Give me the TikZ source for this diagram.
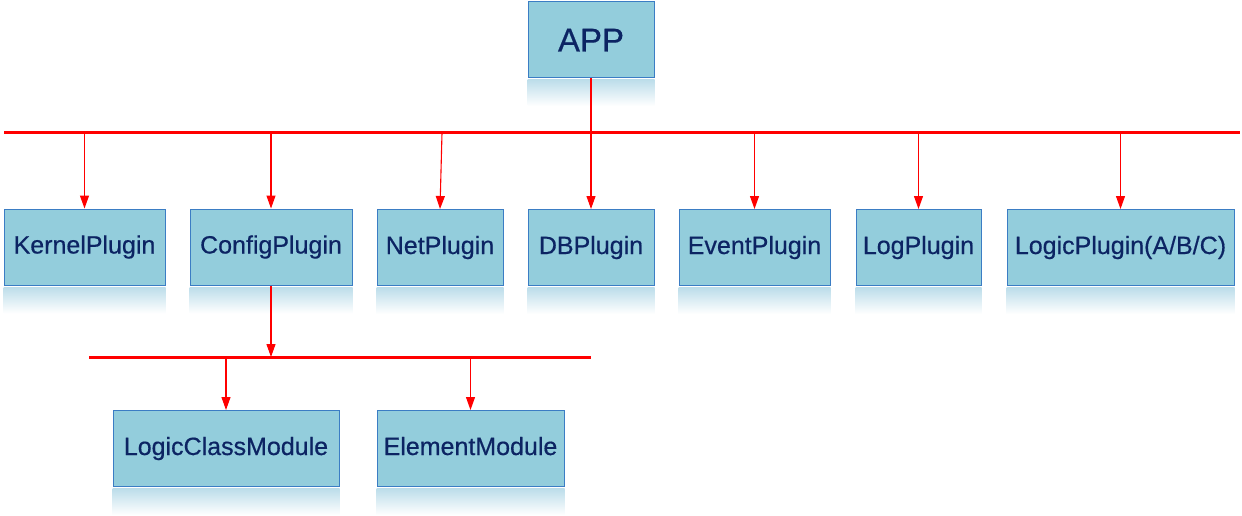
\documentclass[tikz,border=0pt]{standalone}
\usepackage{fontspec}
\setmainfont{Liberation Sans}
\newfontfamily\boxfont[FakeBold=0.5]{Liberation Sans}
\usetikzlibrary{arrows.meta,calc}
\definecolor{boxfill}{HTML}{93CDDC}
\definecolor{boxline}{HTML}{3B7DC4}
\definecolor{boxtext}{HTML}{0C2463}
\definecolor{reflc}{HTML}{BCDDEA}
\definecolor{linered}{HTML}{FF0000}
\tikzset{
  box/.style={draw=boxline, line width=1pt, fill=boxfill, text=boxtext,
    minimum height=76pt, inner sep=0pt, text height=18pt, text depth=5pt,
    font=\boxfont\fontsize{25}{28}\selectfont},
  bigbox/.style={box, text height=24pt, text depth=0pt, font=\boxfont\fontsize{33}{36}\selectfont},
  bus/.style={draw=linered, line width=3pt},
  arr/.style={draw=linered, line width=1.1pt, -{Triangle[width=9pt,length=13pt]}},
}
\begin{document}
\begin{tikzpicture}[x=1pt,y=-1pt]
\useasboundingbox (0,0) rectangle (1242,516);
% nodes
\node[bigbox, minimum width=126pt] (app) at (591,39.5) {APP};
\node[box, minimum width=161pt] (kernel) at (84.5,247) {KernelPlugin};
\node[box, minimum width=162pt] (config) at (271,247) {ConfigPlugin};
\node[box, minimum width=126pt] (net) at (440,247.5) {NetPlugin};
\node[box, minimum width=126pt] (db) at (591,247.5) {DBPlugin};
\node[box, minimum width=151pt] (event) at (754.5,247.5) {EventPlugin};
\node[box, minimum width=125pt] (log) at (918.5,247.5) {LogPlugin};
\node[box, minimum width=227pt] (logic) at (1120.5,247.5) {LogicPlugin(A/B/C)};
\node[box, minimum width=226pt] (lcm) at (226,448.5) {LogicClassModule};
\node[box, minimum width=187pt] (elem) at (470.5,448.5) {ElementModule};
% reflections
\foreach \n in {app,kernel,config,net,db,event,log,logic,lcm,elem}{
  \shade[top color=reflc, bottom color=white]
    ($(\n.south west)+(0,1.5)$) rectangle ($(\n.south east)+(0,28)$);
}
% buses
\coordinate (busL) at (4,133);
\coordinate (busR) at (1240,133);
\coordinate (bus2L) at (89,357);
\coordinate (bus2R) at (591,357);
\draw[bus] (busL) -- (busR);
\draw[bus] (bus2L) -- (bus2R);
% connectors
\draw[arr] (app.south) -- (db.north);
\foreach \n in {kernel,config,event,log,logic}{
  \draw[arr] (\n.north |- busL) -- (\n.north);
}
\coordinate (nettop) at (442,133);
\draw[arr] (nettop) -- (net.north);
\draw[arr] (config.south) -- (config.south |- bus2L);
\foreach \n in {lcm,elem}{
  \draw[arr] (\n.north |- bus2L) -- (\n.north);
}
\end{tikzpicture}
\end{document}
